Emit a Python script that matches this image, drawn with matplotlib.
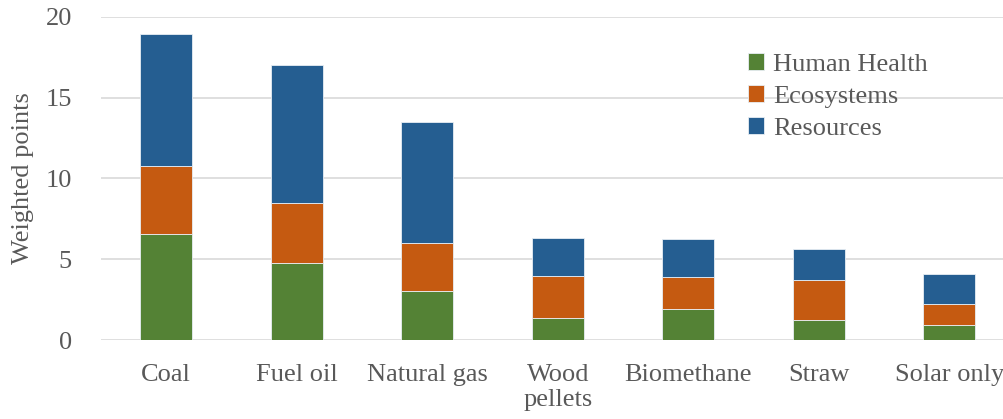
import numpy as np
import matplotlib.pyplot as plt

# categories and impact scores (weighted points)
categories = ["Coal", "Fuel oil", "Natural gas", "Wood\npellets", "Biomethane", "Straw", "Solar only"]
human_health = [6.53, 4.74, 3.01, 1.38, 1.94, 1.26, 0.93]
ecosystems = [4.21, 3.73, 2.97, 2.58, 1.94, 2.45, 1.28]
resources = [8.19, 8.56, 7.50, 2.33, 2.35, 1.90, 1.87]

series_names = ["Human Health", "Ecosystems", "Resources"]
colors = ["#548235", "#C55A11", "#255E91"]
grey = "#595959"
fs = 19

plt.rcParams['font.family'] = ['Liberation Serif', 'DejaVu Serif']

fig = plt.figure(figsize=(10.04, 4.19), dpi=100)
ax = fig.add_axes([0.1006, 0.1885, 0.8994, 0.7716])

x = np.arange(len(categories))
bottom = np.zeros(len(categories))
for vals, name, c in zip([human_health, ecosystems, resources], series_names, colors):
    ax.bar(x, vals, width=0.4, bottom=bottom, color=c, label=name,
           edgecolor="#e8eef4", linewidth=0.6, zorder=3)
    bottom += np.array(vals)

ax.set_ylim(0, 20)
ax.set_xlim(-0.5, 6.42)
ax.set_yticks([0, 5, 10, 15, 20])
ax.yaxis.grid(True, color="#D9D9D9", linewidth=1.2, zorder=0)
ax.set_xticks(x)
ax.set_xticklabels(categories, linespacing=1.2)
ax.tick_params(axis='both', length=0, labelsize=fs, colors=grey)
ax.tick_params(axis='y', pad=21)
ax.tick_params(axis='x', pad=17)
for s in ax.spines.values():
    s.set_visible(False)

ax.set_ylabel("Weighted points", fontsize=fs, color=grey, labelpad=8)

leg = ax.legend(loc='upper left', bbox_to_anchor=(0.705, 0.92), frameon=False,
                fontsize=fs, handlelength=0.6, handleheight=0.6, handletextpad=0.35,
                labelspacing=0.36, borderaxespad=0)
for t in leg.get_texts():
    t.set_color(grey)

fig.savefig("out.png", dpi=100)
